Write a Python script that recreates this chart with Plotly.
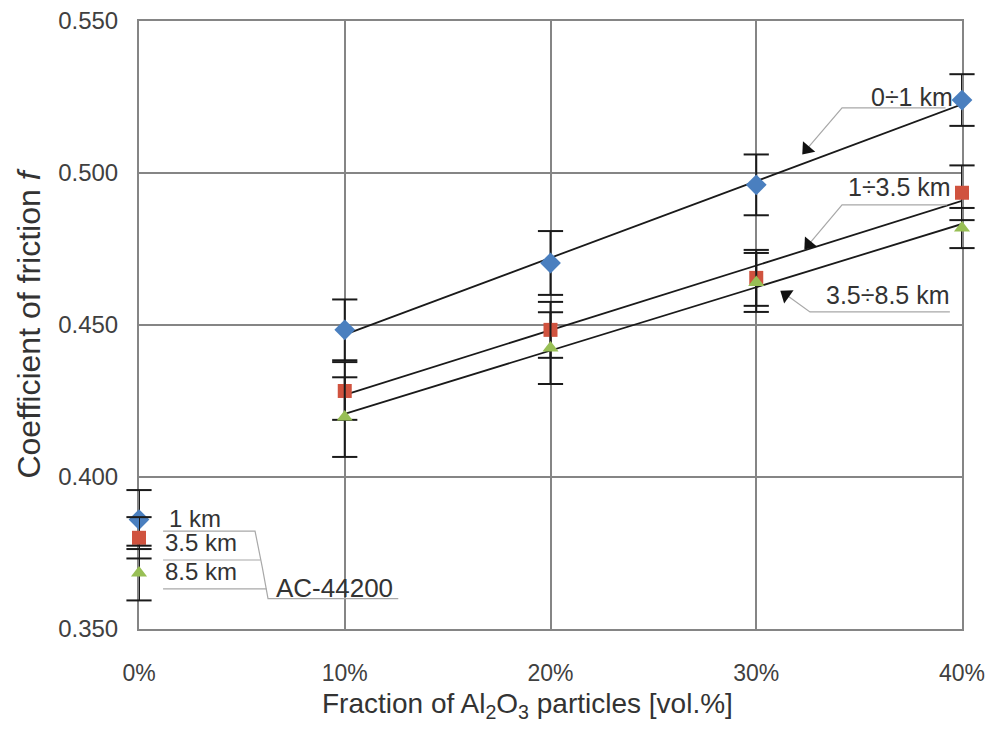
import math
import numpy as np
import plotly.graph_objects as go

# Volume fraction of Al2O3 particles [%]
fraction = [0, 10, 20, 30, 40]
tick_labels = ["0%", "10%", "20%", "30%", "40%"]

# Coefficient of friction and its scatter for each sliding distance
f_1km = [0.3860, 0.4484, 0.4704, 0.4961, 0.5240]
e_1km = [0.0097, 0.0100, 0.0105, 0.0100, 0.0085]
f_35km = [0.3800, 0.4283, 0.4484, 0.4655, 0.4935]
e_35km = [0.0068, 0.0095, 0.0092, 0.0092, 0.0090]
f_85km = [0.3684, 0.4197, 0.4424, 0.4640, 0.4819]
e_85km = [0.0090, 0.0131, 0.0118, 0.0097, 0.0066]

series_names = ["1 km", "3.5 km", "8.5 km"]
range_names = ["0÷1 km", "1÷3.5 km", "3.5÷8.5 km"]
base_alloy = "AC-44200"

FONT = "Liberation Sans, Arial, sans-serif"
NARROW = "Liberation Sans Narrow, Arial Narrow, Liberation Sans, sans-serif"
GRID = "#858585"
LEADER = "#a8a8a8"
INK = "#1a1a1a"

# plot area geometry (pixels) used to orient the arrowheads
L, R, T, B = 139, 42, 21, 110
W, H = 1004, 739
X0, X1 = 0, 40
Y0, Y1 = 0.35, 0.55
px_per_x = (W - L - R) / (X1 - X0)
px_per_y = (H - T - B) / (Y1 - Y0)

fig = go.Figure()

# linear trends through the composite points (10-40 %)
comp_x = np.array(fraction[1:], dtype=float)
for vals in (f_1km, f_35km, f_85km):
    k, b = np.polyfit(comp_x, np.array(vals[1:]), 1)
    xs = np.array([comp_x[0], comp_x[-1]])
    fig.add_trace(go.Scatter(x=xs, y=k * xs + b, mode="lines",
                             line=dict(color=INK, width=1.8),
                             hoverinfo="skip", showlegend=False))

styles = [
    (f_1km, e_1km, "diamond", "#4a7fbf", 16),
    (f_35km, e_35km, "square", "#d0533f", 14),
    (f_85km, e_85km, "triangle-up", "#98bf55", 14),
]
for vals, errs, sym, col, size in styles:
    # error bar stems
    fig.add_trace(go.Scatter(
        x=fraction, y=vals, mode="markers",
        marker=dict(size=0, opacity=0),
        error_y=dict(type="data", array=errs, visible=True,
                     color=INK, thickness=2, width=0),
        hoverinfo="skip", showlegend=False))
    # error bar caps (markers, so they are not clipped at the frame)
    cap_x = fraction + fraction
    cap_y = [v + e for v, e in zip(vals, errs)] + [v - e for v, e in zip(vals, errs)]
    fig.add_trace(go.Scatter(
        x=cap_x, y=cap_y, mode="markers",
        marker=dict(symbol="line-ew", size=18, line=dict(color=INK, width=2)),
        hoverinfo="skip", showlegend=False, cliponaxis=False))
    fig.add_trace(go.Scatter(
        x=fraction, y=vals, mode="markers",
        marker=dict(symbol=sym, color=col, size=size, line=dict(width=0)),
        showlegend=False, cliponaxis=False))

# callout leaders to the trend lines: (underline start, underline end, arrow tip, text anchor)
callouts = [
    ((34.17, 0.5214), (39.20, 0.5214), (32.30, 0.5066), (39.66, 0.5249)),
    ((34.17, 0.4895), (39.27, 0.4895), (32.40, 0.4753), (39.56, 0.4953)),
    ((32.61, 0.4543), (39.41, 0.4543), (31.25, 0.4609), (39.51, 0.4600)),
]
for name, (p0, p1, tip, txt) in zip(range_names, callouts):
    fig.add_trace(go.Scatter(x=[p1[0], p0[0], tip[0]], y=[p1[1], p0[1], tip[1]],
                             mode="lines", line=dict(color=LEADER, width=1.2),
                             hoverinfo="skip", showlegend=False))
    # black arrowhead at the tip, rotated along the leader
    sx = (tip[0] - p0[0]) * px_per_x
    sy = -(tip[1] - p0[1]) * px_per_y
    ang = math.degrees(math.atan2(sx, -sy))
    n = math.hypot(sx, sy)
    back = 5.0
    hx = tip[0] - sx / n * back / px_per_x
    hy = tip[1] + sy / n * back / px_per_y
    fig.add_trace(go.Scatter(x=[hx], y=[hy], mode="markers",
                             marker=dict(symbol="triangle-up", size=14, angle=ang,
                                         color="#111111", line=dict(width=0)),
                             hoverinfo="skip", showlegend=False, cliponaxis=False))
    fig.add_annotation(x=txt[0], y=txt[1], xref="x", yref="y", text=name,
                       showarrow=False, xanchor="right", yanchor="middle",
                       font=dict(family=FONT, size=25, color="#333333"))

# labels for the base alloy points
base_pos = [(1.37, 0.3862), (1.17, 0.3785), (1.17, 0.3688)]
for name, (x, y) in zip(series_names, base_pos):
    fig.add_annotation(x=x, y=y, xref="x", yref="y", text=name, showarrow=False,
                       xanchor="left", yanchor="middle",
                       font=dict(family=FONT, size=24, color="#333333"))
fig.add_annotation(x=6.55, y=0.3634, xref="x", yref="y", text=base_alloy,
                   showarrow=False, xanchor="left", yanchor="middle",
                   font=dict(family=FONT, size=26, color="#333333"))
fig.add_trace(go.Scatter(x=[1.17, 5.64, 6.0, 6.27, 12.6],
                         y=[0.3822, 0.3822, 0.3700, 0.3600, 0.3600],
                         mode="lines", line=dict(color=LEADER, width=1.2),
                         hoverinfo="skip", showlegend=False))
fig.add_trace(go.Scatter(x=[1.17, 5.9, None, 1.17, 6.2],
                         y=[0.3727, 0.3727, None, 0.3632, 0.3632],
                         mode="lines", line=dict(color=LEADER, width=1.2),
                         hoverinfo="skip", showlegend=False))

# x-axis title, set slightly left of the plot centre
fig.add_annotation(x=(527 - L) / (W - L - R), y=-(705 - (H - B)) / (H - T - B),
                   xref="paper", yref="paper",
                   text="Fraction of Al<sub>2</sub>O<sub>3</sub> particles [vol.%]",
                   showarrow=False, xanchor="center", yanchor="middle",
                   font=dict(family=FONT, size=28, color="#333333"))

fig.update_layout(
    width=W, height=H,
    margin=dict(l=L, r=R, t=T, b=B, autoexpand=False),
    paper_bgcolor="white", plot_bgcolor="white",
    font=dict(family=FONT, color="#333333"),
    showlegend=False,
)
fig.update_xaxes(
    range=[X0, X1], tickvals=fraction, ticktext=tick_labels,
    showgrid=True, gridcolor=GRID, gridwidth=2,
    showline=True, linecolor=GRID, linewidth=2, mirror=True,
    zeroline=False, ticks="", ticklabelstandoff=22, automargin=False,
    layer="below traces",
    tickfont=dict(family=NARROW, size=23, color="#404040"),
)
fig.update_yaxes(
    range=[Y0, Y1], tickvals=[0.35, 0.40, 0.45, 0.50, 0.55],
    tickformat=".3f",
    showgrid=True, gridcolor=GRID, gridwidth=2,
    showline=True, linecolor=GRID, linewidth=2, mirror=True,
    zeroline=False, ticks="", ticklabelstandoff=14, automargin=False,
    layer="below traces",
    tickfont=dict(family=FONT, size=24, color="#404040"),
    title=dict(text="Coefficient of friction <i>f</i>",
               font=dict(family=FONT, size=32, color="#333333"), standoff=8),
)

fig.write_html("out.html")
